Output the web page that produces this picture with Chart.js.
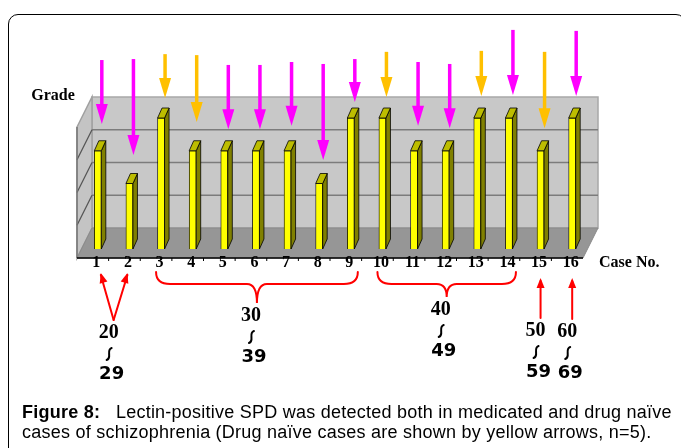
<!DOCTYPE html>
<html>
<head>
<meta charset="utf-8">
<script src="https://cdn.jsdelivr.net/npm/chart.js@4.4.1/dist/chart.umd.min.js"></script>
<style>
  body { margin: 0; background: #fff; }
  #wrap { position: relative; width: 681px; height: 448px; overflow: hidden; }
  #frame { position: absolute; left: 8px; top: 14px; width: 676px; height: 460px; border: 1.5px solid #000; border-radius: 10px; }
  #myChart { position: absolute; left: 0; top: 0; }
  #caption { position: absolute; left: 22px; top: 402px; font: 18px/20px "Liberation Sans", Arial, sans-serif; letter-spacing: 0.24px; color: #000; white-space: pre; }
</style>
</head>
<body>
<div id="wrap">
  <div id="frame"></div>
  <canvas id="myChart" width="681" height="448"></canvas>
  <div id="caption"><b>Figure 8:</b>   Lectin-positive SPD was detected both in medicated and drug naïve
cases of schizophrenia (Drug naïve cases are shown by yellow arrows, n=5).</div>
</div>
<script>
// grade of lectin-positive SPD per case
const caseNo = ['1', '2', '3', '4', '5', '6', '7', '8', '9', '10', '11', '12', '13', '14', '15', '16'];
const grade = [3, 2, 4, 3, 3, 3, 3, 2, 4, 4, 3, 3, 4, 4, 3, 4];
const naiveCases = [3, 4, 10, 13, 15];

// arrows above the bars, in grade units (start / tip)
const arrowFrom = [5.77, 5.80, 5.95, 5.92, 5.62, 5.62, 5.71, 5.65, 5.80, 6.02, 5.71, 5.65, 6.05, 6.69, 6.02, 6.66];
const arrowTo = [3.82, 2.87, 4.61, 3.88, 3.66, 3.66, 3.76, 2.72, 4.49, 4.64, 3.76, 3.69, 4.67, 4.70, 3.69, 4.67];

// age groups under the axis
const groupFirst = [1, 3, 10, 15, 16];
const groupLast = [2, 9, 14, 15, 16];
const ageLow = ['20', '30', '40', '50', '60'];
const ageHigh = ['29', '39', '49', '59', '69'];

// layout of the marks under the axis
const groupMark = ['fork', 'brace', 'brace', 'arrow', 'arrow'];
const groupDrop = [320, 303, 297, 318, 319];

const serifBold = 'bold 16px "Liberation Serif", "Times New Roman", serif';

function poly(ctx, pts, fill, stroke, lw) {
    ctx.beginPath();
    ctx.moveTo(pts[0][0], pts[0][1]);
    for (let i = 1; i < pts.length; i++) ctx.lineTo(pts[i][0], pts[i][1]);
    ctx.closePath();
    if (fill) { ctx.fillStyle = fill; ctx.fill(); }
    if (stroke) { ctx.strokeStyle = stroke; ctx.lineWidth = lw || 1; ctx.stroke(); }
}

function line(ctx, x0, y0, x1, y1, color, lw) {
    ctx.beginPath();
    ctx.moveTo(x0, y0);
    ctx.lineTo(x1, y1);
    ctx.strokeStyle = color;
    ctx.lineWidth = lw;
    ctx.stroke();
}

function redHead(ctx, x, y, dx, dy) {
    // small filled head pointing along (dx, dy)
    const len = Math.hypot(dx, dy), ux = dx / len, uy = dy / len;
    const bx = x - ux * 10, by = y - uy * 10;
    poly(ctx, [[x, y], [bx - uy * 4, by + ux * 4], [bx + uy * 4, by - ux * 4]], '#ff0000');
}

// the little vertical wave between "20" and "29"
function wave(ctx, x, y) {
    ctx.beginPath();
    ctx.moveTo(x + 2.5, y - 6);
    ctx.bezierCurveTo(x - 3.5, y - 4, x + 3.5, y + 4, x - 2.5, y + 6);
    ctx.strokeStyle = '#000';
    ctx.lineWidth = 2;
    ctx.stroke();
}

const box3d = {
    id: 'box3d',
    beforeDatasetsDraw(chart) {
        const ctx = chart.ctx, a = chart.chartArea, ys = chart.scales.y;
        const fl = a.left - 5, fr = a.right - 5, bl = a.left + 10, br = a.right + 10;
        const back = v => ys.getPixelForValue(v) - 21;
        const front = v => ys.getPixelForValue(v) + 9;
        ctx.save();
        // back wall
        poly(ctx, [[bl, back(4)], [br, back(4)], [br, back(0)], [bl, back(0)]], '#c8c8c8', '#a8a8a8', 1.5);
        // left wall
        poly(ctx, [[fl, front(4)], [bl, back(4)], [bl, back(0)], [fl, front(0)]], '#c4c4c4', '#a0a0a0', 1.5);
        // floor
        poly(ctx, [[bl, back(0)], [br, back(0)], [fr, front(0)], [fl, front(0)]], '#969696', '#8a8a8a', 1);
        // grid lines
        for (let v = 1; v <= 3; v++) {
            line(ctx, bl, back(v), br, back(v), '#7c7c7c', 1.5);
            line(ctx, fl, front(v), bl, back(v), '#555', 1.2);
        }
        line(ctx, fl, front(4), fl, front(0), '#777', 1.5);
        ctx.restore();
    },
    afterDatasetsDraw(chart) {
        const ctx = chart.ctx, a = chart.chartArea, xs = chart.scales.x, ys = chart.scales.y;
        const meta = chart.getDatasetMeta(0);
        ctx.save();
        // side and top faces of the bars
        meta.data.forEach(bar => {
            const p = bar.getProps(['x', 'y', 'base', 'width'], true);
            const l = p.x - p.width / 2, r = p.x + p.width / 2, dx = 4.5, dy = 10;
            poly(ctx, [[r, p.y], [r + dx, p.y - dy], [r + dx, p.base - dy], [r, p.base]], '#808000', '#000', 0.8);
            poly(ctx, [[l, p.y], [r, p.y], [r + dx, p.y - dy], [l + dx, p.y - dy]], '#bdbd00', '#000', 0.8);
        });
        // axis line and ticks
        const ay = ys.getPixelForValue(0) + 9;
        line(ctx, a.left - 5, ay, a.right - 5, ay, '#000', 1.5);
        const w = (a.right - a.left) / caseNo.length;
        for (let k = 1; k < caseNo.length; k++) {
            line(ctx, a.left - 5 + k * w, ay, a.left - 5 + k * w, ay + 3, '#000', 1);
        }
        // case numbers
        ctx.font = serifBold;
        ctx.fillStyle = '#000';
        ctx.textAlign = 'center';
        ctx.textBaseline = 'middle';
        caseNo.forEach((c, i) => ctx.fillText(c, xs.getPixelForValue(i) - 1.5, ay + 5));
        ctx.textAlign = 'left';
        ctx.fillText('Case No.', a.right + 11, ay + 5);
        ctx.textAlign = 'center';
        ctx.fillText('Grade', 53, ys.getPixelForValue(4) - 22);

        // arrows pointing at each case
        caseNo.forEach((c, i) => {
            const col = naiveCases.includes(i + 1) ? '#ffc000' : '#ff00ff';
            const cx = xs.getPixelForValue(i) + 4;
            const y0 = ys.getPixelForValue(arrowFrom[i]), y1 = ys.getPixelForValue(arrowTo[i]);
            line(ctx, cx, y0, cx, y1 - 18, col, 3.5);
            poly(ctx, [[cx - 6, y1 - 20], [cx + 6, y1 - 20], [cx, y1]], col);
        });

        // age groups
        ctx.lineCap = 'round';
        groupFirst.forEach((f, g) => {
            const x0 = xs.getPixelForValue(f - 1), x1 = xs.getPixelForValue(groupLast[g] - 1);
            const mid = (x0 + x1) / 2, drop = groupDrop[g];
            const top = ay + 17;
            if (groupMark[g] === 'fork') {
                const t0 = x0 + 3, t1 = x1 - 2;
                line(ctx, mid, drop, t0, top, '#ff0000', 2);
                line(ctx, mid, drop, t1, top, '#ff0000', 2);
                redHead(ctx, t0, top - 2, t0 - mid, top - drop);
                redHead(ctx, t1, top - 2, t1 - mid, top - drop);
            } else if (groupMark[g] === 'arrow') {
                line(ctx, mid, drop, mid, top + 6, '#ff0000', 2);
                redHead(ctx, mid, top + 3, 0, -1);
            } else {
                const l = x0 - 5, r = x1 + 7, m = mid + 1, h = ay + 26, t = ay + 14;
                ctx.beginPath();
                ctx.moveTo(l, t);
                ctx.quadraticCurveTo(l, h, l + 14, h);
                ctx.lineTo(m - 10, h);
                ctx.quadraticCurveTo(m, h, m, drop);
                ctx.quadraticCurveTo(m, h, m + 10, h);
                ctx.lineTo(r - 14, h);
                ctx.quadraticCurveTo(r, h, r, t);
                ctx.strokeStyle = '#ff0000';
                ctx.lineWidth = 2;
                ctx.stroke();
            }
            ctx.fillStyle = '#000';
            ctx.font = 'bold 20px "Liberation Serif", "Times New Roman", serif';
            ctx.fillText(ageLow[g], mid - 5, drop + 13);
            wave(ctx, mid - 4.5, drop + 34);
            ctx.fillStyle = '#000';
            ctx.font = 'bold 18px "DejaVu Sans", Verdana, sans-serif';
            ctx.fillText(ageHigh[g], mid - 2, drop + 54);
        });
        ctx.restore();
    }
};

var ctx = document.getElementById('myChart').getContext('2d');
var myChart = new Chart(ctx, {
    type: 'bar',
    data: {
        labels: caseNo,
        datasets: [{
            label: 'Grade',
            data: grade,
            backgroundColor: '#ffff00',
            borderColor: '#000',
            borderWidth: 0.8,
            barThickness: 7
        }]
    },
    options: {
        responsive: false,
        animation: false,
        devicePixelRatio: 1,
        layout: { padding: { left: 82, right: 93, top: 118, bottom: 199 } },
        plugins: { legend: { display: false }, tooltip: { enabled: false } },
        scales: {
            x: { display: false },
            y: { display: false, min: 0, max: 4 }
        }
    },
    plugins: [box3d]
});
</script>
</body>
</html>
